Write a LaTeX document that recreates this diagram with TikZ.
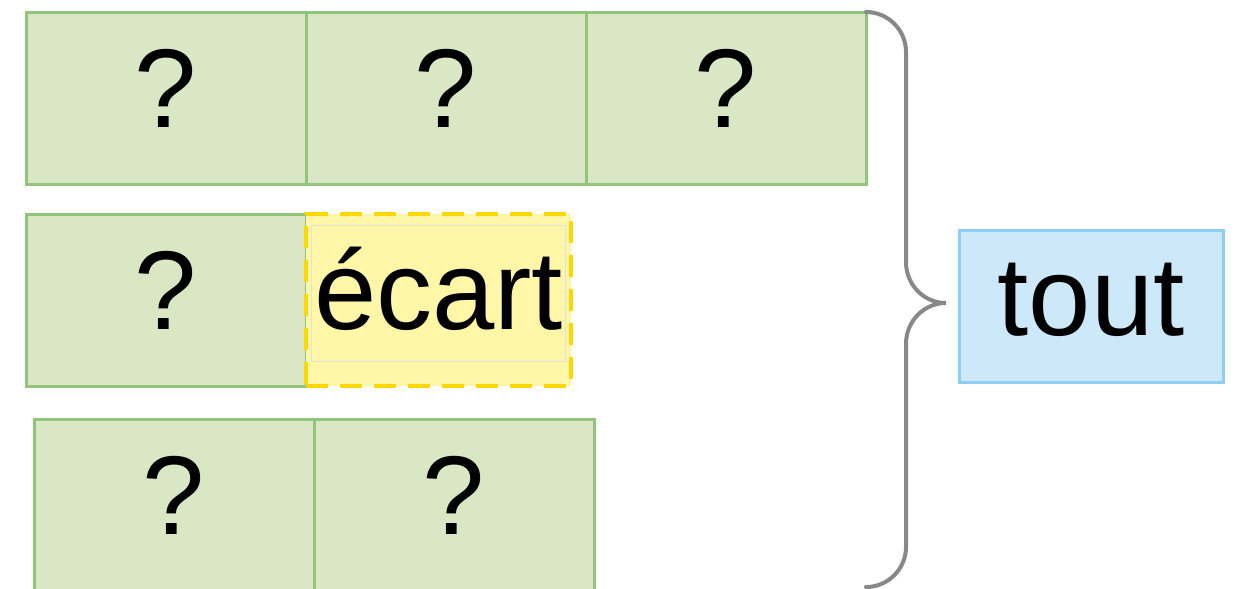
\documentclass[tikz,border=0pt]{standalone}
\usepackage{fontspec}
\setmainfont{Liberation Sans}
\usepackage{xcolor}
\usepackage{tikz}
\usetikzlibrary{positioning}
\definecolor{LeafFill}{HTML}{D9E7C4}
\definecolor{LeafLine}{HTML}{93C47D}
\definecolor{GapFill}{HTML}{FFF6A8}
\definecolor{GapLine}{HTML}{FFD700}
\definecolor{SkyFill}{HTML}{CCE8F9}
\definecolor{SkyLine}{HTML}{8ECEF5}
\definecolor{BraceGrey}{HTML}{888888}

\begin{document}
\begin{tikzpicture}[x=.5pt,y=-.5pt]
  \path[use as bounding box] (0,0) rectangle (1237,589);

  \tikzset{
    sumText/.style={
      inner sep=0pt,
      text height=42pt,
      text depth=13pt,
      font=\fontsize{56}{60}\selectfont
    },
    sumPart/.style={
      sumText,
      draw=LeafLine,
      fill=LeafFill,
      line width=1.5pt,
      minimum width=140pt,
      minimum height=86pt
    },
    sumGap/.style={
      sumPart,
      draw=GapLine,
      fill=GapFill,
      line width=2pt,
      dash pattern=on 11pt off 6pt,
      minimum width=132.5pt
    },
    sumTotal/.style={
      sumPart,
      draw=SkyLine,
      fill=SkyFill,
      minimum width=132pt,
      minimum height=76pt
    },
    sumBrace/.style={
      draw=BraceGrey,
      line width=2pt,
      line cap=round
    }
  }

  % trois lignes de morceaux
  \node[sumPart] (rowAa) at (166,98) {?};
  \node[sumPart] (rowAb) at (446,98) {?};
  \node[sumPart] (rowAc) at (726,98) {?};

  \node[sumPart] (rowBa) at (166,300) {?};
  \node[sumGap]  (gap)   at (438.5,300) {};
  \draw[black!12,line width=.4pt] (311,225) rectangle (565,361);
  \node[sumText] (gaptext) at (gap.center) {écart};

  \node[sumPart] (rowCa) at (174,505) {?};
  \node[sumPart] (rowCb) at (454,505) {?};

  % accolade vers le total
  \node[sumTotal] (total) at (1091,306) {tout};
  \coordinate (tip) at (946,303);
  \draw[sumBrace] (866,12) .. controls (888,12) and (906,30) .. (906,52)
    -- (906,262) .. controls (906,285) and (924,303) .. (tip)
    .. controls (924,303) and (906,321) .. (906,344)
    -- (906,547) .. controls (906,569) and (888,587) .. (866,587);
\end{tikzpicture}
\end{document}
